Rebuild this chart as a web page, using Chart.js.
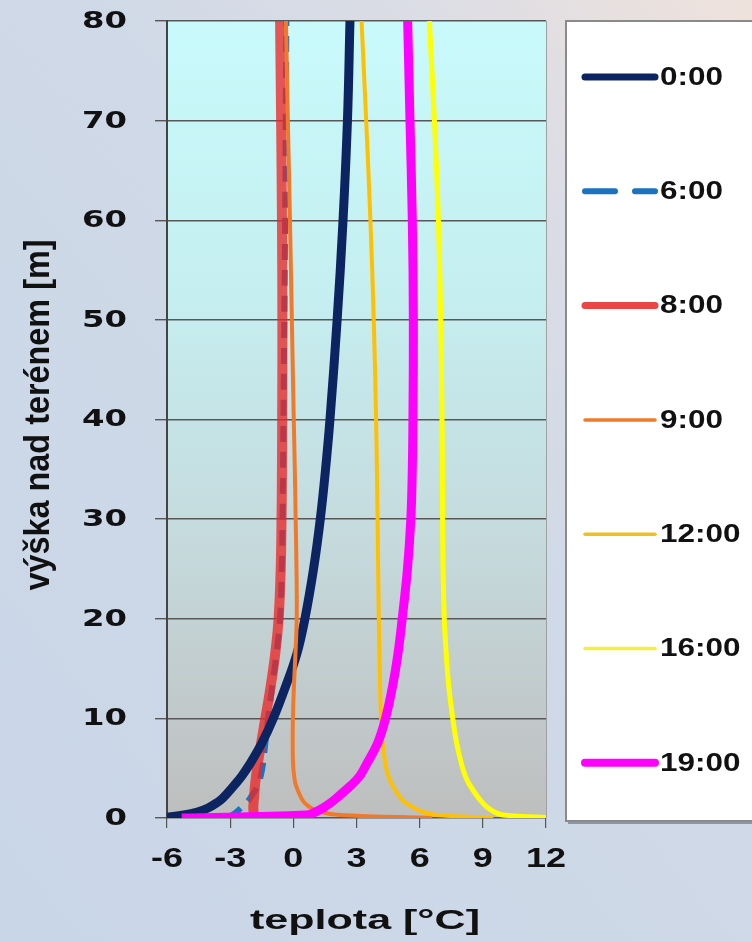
<!DOCTYPE html>
<html>
<head>
<meta charset="utf-8">
<script src="https://cdn.jsdelivr.net/npm/chart.js@4.4.1/dist/chart.umd.min.js"></script>
<style>
  html, body { margin: 0; padding: 0; }
  body {
    width: 752px; height: 942px; overflow: hidden;
    background: linear-gradient(to bottom left, #efe2dc 0%, #dcdde5 22%, #cfd9e7 45%, #c9d6e8 100%);
  }
  canvas { display: block; }
</style>
</head>
<body>
<canvas id="c" width="752" height="942"></canvas>
<script>
// ---- data ----
const seriesLabels = ['0:00', '6:00', '8:00', '9:00', '12:00', '16:00', '19:00'];
const xTickValues = [-6, -3, 0, 3, 6, 9, 12];
const yTickValues = [0, 10, 20, 30, 40, 50, 60, 70, 80];
const xTitle = 'teplota [°C]';
const yTitle = 'výška nad terénem [m]';

// heights above ground [m]
const heights = [0, 0.3, 0.6, 1, 1.5, 2, 3.3, 4.2, 5.3, 7.5, 10, 13.3, 16.5, 20, 25, 30, 35, 40, 50, 60, 70, 80];
// temperatures [°C] at those heights
const t0000 = [-6.3, -5.2, -4.55, -4.05, -3.65, -3.35, -2.8, -2.45, -2.1, -1.5, -0.95, -0.35, 0.17, 0.55, 0.96, 1.28, 1.53, 1.74, 2.08, 2.36, 2.57, 2.69];
const t0600 = [-3.1, -2.9, -2.7, -2.5, -2.25, -2.05, -1.68, -1.55, -1.45, -1.33, -1.2, -1.0, -0.8, -0.63, -0.55, -0.51, -0.49, -0.47, -0.43, -0.39, -0.36, -0.33];
const t0800 = [-1.82, -1.86, -1.89, -1.9, -1.89, -1.87, -1.82, -1.77, -1.7, -1.53, -1.33, -1.07, -0.86, -0.7, -0.6, -0.56, -0.54, -0.53, -0.52, -0.54, -0.58, -0.63];
const t0900 = [6.6, 2.2, 1.3, 0.85, 0.55, 0.38, 0.12, 0.04, -0.01, -0.03, -0.02, 0.03, 0.1, 0.16, 0.15, 0.11, 0.07, 0.02, -0.07, -0.16, -0.26, -0.35];
const t1200 = [9.5, 6.8, 6.15, 5.75, 5.35, 5.1, 4.7, 4.52, 4.38, 4.24, 4.17, 4.12, 4.09, 4.06, 4.03, 4.0, 3.97, 3.93, 3.82, 3.66, 3.46, 3.24];
const t1600 = [12.5, 9.95, 9.55, 9.25, 9.0, 8.8, 8.38, 8.17, 8.0, 7.76, 7.57, 7.38, 7.26, 7.17, 7.11, 7.09, 7.08, 7.06, 7.0, 6.89, 6.7, 6.46];
const t1900 = [-5.3, 0.6, 1.05, 1.4, 1.75, 2.05, 2.75, 3.15, 3.45, 4.0, 4.38, 4.72, 4.97, 5.17, 5.42, 5.58, 5.65, 5.68, 5.7, 5.65, 5.54, 5.43];

const seriesTemps = [t0000, t0600, t0800, t0900, t1200, t1600, t1900];

// ---- styles ----
const styles = [
  { color: '#0c2461', width: 9, dash: [], order: 4, legendWidth: 7 },
  { color: '#1a72c0', width: 6, dash: [16, 10], order: 6, legendWidth: 6, legendDash: [30, 20] },
  { color: 'rgba(234,40,40,0.78)', width: 10, dash: [], order: 5, legendWidth: 7, legendColor: '#ea4646' },
  { color: '#f07a2a', width: 4, dash: [], order: 3, legendWidth: 3.5 },
  { color: '#ffc000', width: 4, dash: [], order: 2, legendWidth: 3.5, legendColor: '#f0c020' },
  { color: '#ffff00', width: 5, dash: [], order: 1, legendWidth: 3.5, legendColor: '#f4f040' },
  { color: '#ff00ff', width: 9, dash: [], order: 0, legendWidth: 8 }
];

const datasets = seriesLabels.map((lab, i) => ({
  label: lab,
  data: heights.map((h, k) => ({ x: seriesTemps[i][k], y: h })),
  borderColor: styles[i].color,
  borderWidth: styles[i].width,
  borderDash: styles[i].dash,
  order: styles[i].order,
  pointRadius: 0,
  fill: false,
  tension: 0.4
}));

function stretchText(ctx, txt, font, x, y, align, sx, color) {
  ctx.save();
  ctx.font = font;
  ctx.translate(x, y);
  ctx.scale(sx, 1);
  ctx.textAlign = align;
  ctx.textBaseline = 'middle';
  ctx.fillStyle = color || '#111';
  ctx.fillText(txt, 0, 0);
  ctx.restore();
}

const decorPlugin = {
  id: 'decor',
  beforeDraw(chart) {
    const { ctx, chartArea: a } = chart;
    const g = ctx.createLinearGradient(0, a.top, 0, a.bottom);
    g.addColorStop(0, '#c9fafb');
    g.addColorStop(0.35, '#c5eef0');
    g.addColorStop(0.65, '#c5dadd');
    g.addColorStop(1, '#bebebe');
    ctx.save();
    ctx.fillStyle = g;
    ctx.fillRect(a.left, a.top, a.right - a.left, a.bottom - a.top);
    ctx.strokeStyle = '#a0a0a0';
    ctx.lineWidth = 1;
    ctx.beginPath();
    ctx.moveTo(a.right + 0.5, a.top);
    ctx.lineTo(a.right + 0.5, a.bottom);
    ctx.stroke();
    ctx.restore();
  },
  afterDraw(chart) {
    const { ctx } = chart;
    const xs = chart.scales.x, ys = chart.scales.y;

    // y tick labels
    ctx.save();
    ctx.font = 'bold 23px "DejaVu Sans"';
    const syx = 45 / ctx.measureText('80').width;
    ctx.restore();
    ys.ticks.forEach(t => {
      const py = ys.getPixelForValue(t.value);
      stretchText(ctx, String(t.value), 'bold 23px "DejaVu Sans"', 127, py + 1, 'right', syx, '#111');
    });

    // x tick labels
    ctx.save();
    ctx.font = 'bold 28px "Liberation Sans"';
    const sxx = 40 / ctx.measureText('12').width;
    ctx.restore();
    xs.ticks.forEach(t => {
      const px = xs.getPixelForValue(t.value);
      stretchText(ctx, String(t.value), 'bold 28px "Liberation Sans"', px, 859, 'center', sxx, '#111');
    });

    // x title
    ctx.save();
    ctx.font = 'bold 27px "Liberation Sans"';
    const sxt = 230 / ctx.measureText(xTitle).width;
    ctx.restore();
    stretchText(ctx, xTitle, 'bold 27px "Liberation Sans"', 365, 922, 'center', sxt, '#111');

    // y title (rotated, condensed)
    ctx.save();
    ctx.font = 'bold 35px "Liberation Sans Narrow", "Liberation Sans"';
    const syt = 351 / ctx.measureText(yTitle).width;
    ctx.translate(39, 415);
    ctx.rotate(-Math.PI / 2);
    ctx.scale(syt, 1);
    ctx.textAlign = 'center';
    ctx.textBaseline = 'middle';
    ctx.fillStyle = '#111';
    ctx.fillText(yTitle, 0, 0);
    ctx.restore();

    // legend box
    ctx.save();
    ctx.fillStyle = '#8e96a4';
    ctx.fillRect(568, 23, 200, 801);
    ctx.fillStyle = '#ffffff';
    ctx.fillRect(566, 21, 200, 800);
    ctx.strokeStyle = '#8a8a8a';
    ctx.lineWidth = 2;
    ctx.strokeRect(566, 21, 200, 800);
    ctx.restore();

    ctx.save();
    ctx.font = 'bold 25px "Liberation Sans"';
    const sxl = 63 / ctx.measureText('0:00').width;
    ctx.restore();
    seriesLabels.forEach((lab, i) => {
      const cy = 77 + i * 114.3;
      const st = styles[i];
      ctx.save();
      ctx.strokeStyle = st.legendColor || st.color;
      ctx.lineWidth = st.legendWidth;
      ctx.lineCap = 'round';
      ctx.setLineDash(st.legendDash || []);
      ctx.beginPath();
      ctx.moveTo(585, cy);
      ctx.lineTo(655, cy);
      ctx.stroke();
      ctx.restore();
      stretchText(ctx, lab, 'bold 25px "Liberation Sans"', 660, cy + 1, 'left', sxl, '#111');
    });
  }
};

new Chart(document.getElementById('c'), {
  type: 'line',
  data: { datasets },
  plugins: [decorPlugin],
  options: {
    responsive: false,
    animation: false,
    layout: { padding: { left: 0, right: 206, top: 21, bottom: 0 } },
    plugins: { legend: { display: false }, tooltip: { enabled: false } },
    elements: { point: { radius: 0 }, line: { borderJoinStyle: 'round', borderCapStyle: 'butt' } },
    scales: {
      x: {
        type: 'linear', position: 'bottom', min: -6, max: 12,
        afterBuildTicks: s => { s.ticks = xTickValues.map(v => ({ value: v })); },
        afterFit: s => { s.height = 124; },
        ticks: { display: false },
        grid: { drawOnChartArea: false, drawTicks: true, tickLength: 10, color: '#555', lineWidth: 1.2 },
        border: { display: false }
      },
      y: {
        type: 'linear', position: 'left', min: 0, max: 80,
        afterBuildTicks: s => { s.ticks = yTickValues.map(v => ({ value: v })); },
        afterFit: s => { s.width = 167; },
        ticks: { display: false },
        grid: { color: '#575757', lineWidth: 1.4, tickLength: 12, tickColor: '#575757', drawTicks: true },
        border: { display: true, color: '#444', width: 2 }
      }
    }
  }
});
</script>
</body>
</html>
